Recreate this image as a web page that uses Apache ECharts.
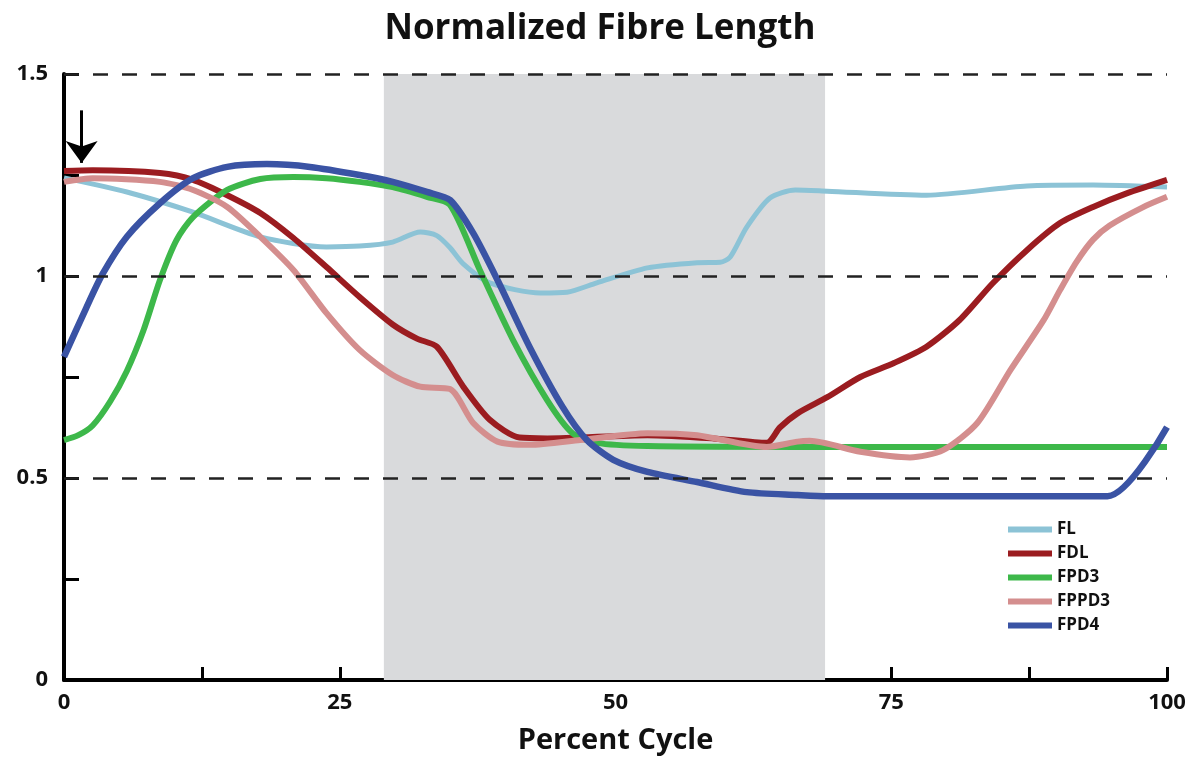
<!DOCTYPE html>
<html>
<head>
<meta charset="utf-8">
<title>Normalized Fibre Length</title>
<script src="https://cdn.jsdelivr.net/npm/echarts@6/dist/echarts.min.js"></script>
<style>
  html, body { margin: 0; padding: 0; background: #fff; }
  #chart { width: 1200px; height: 762px; }
</style>
</head>
<body>
<div id="chart"></div>
<script>
// values, [percent cycle, normalized length]
const fl = [[0,1.243],[5.7,1.208],[11.7,1.158],[17.8,1.097],[23.8,1.072],[26.8,1.074],[29.8,1.084],[32.3,1.109],[33.8,1.10],[35,1.07],[36.2,1.03],[38.6,0.983],[43.2,0.958],[45.6,0.96],[48.3,0.983],[52.9,1.02],[57.4,1.033],[59.5,1.034],[60.4,1.047],[61.9,1.121],[64,1.193],[66.3,1.213],[69.2,1.21],[78.2,1.20],[87.3,1.223],[93.3,1.225],[100,1.22]];
const fdl = [[0,1.26],[2.6,1.262],[8.7,1.255],[11.7,1.238],[14.8,1.20],[17.8,1.156],[20.8,1.094],[23.8,1.022],[26.8,0.948],[29.8,0.88],[32,0.845],[33.8,0.825],[36.2,0.726],[38.6,0.644],[41.3,0.60],[43.8,0.598],[52.9,0.606],[58.9,0.598],[63.7,0.587],[64.9,0.625],[66.5,0.66],[69.2,0.70],[72.2,0.75],[75.2,0.784],[78.2,0.825],[81.2,0.891],[84.2,0.982],[87.3,1.064],[90.3,1.131],[93.3,1.171],[96.4,1.205],[100,1.238]];
const fpd3 = [[0,0.594],[1.3,0.606],[2.6,0.63],[4.2,0.69],[5.7,0.765],[7.2,0.865],[8.7,0.99],[10.2,1.089],[11.7,1.146],[14.8,1.213],[17.8,1.24],[20.8,1.245],[23.8,1.242],[26.8,1.233],[29.8,1.22],[32.9,1.196],[35,1.176],[37.7,1.015],[40.7,0.842],[43.8,0.693],[46.1,0.611],[48.3,0.587],[52.9,0.579],[66.7,0.577],[100,0.577]];
const fppd3 = [[0,1.233],[2.6,1.242],[8.7,1.233],[11.7,1.213],[14.8,1.171],[17.8,1.097],[20.8,1.015],[23.8,0.908],[26.8,0.817],[29.8,0.755],[32.3,0.726],[35,0.72],[37.1,0.636],[39.3,0.59],[42.2,0.582],[46.8,0.594],[52.9,0.611],[57.4,0.606],[63.7,0.577],[66.5,0.59],[67.6,0.592],[72.2,0.565],[76.7,0.551],[79.7,0.569],[82.8,0.636],[85.8,0.767],[88.8,0.89],[90.3,0.965],[91.8,1.035],[93.3,1.09],[94.8,1.125],[97.8,1.17],[100,1.196]];
const fpd4 = [[0,0.80],[2,0.92],[3.5,1.005],[5.7,1.097],[8.7,1.18],[11.7,1.242],[14.8,1.27],[18.4,1.277],[22.3,1.27],[26.8,1.25],[29.8,1.233],[32.9,1.208],[35,1.188],[37.1,1.106],[39.3,0.99],[42.2,0.825],[45.2,0.676],[47.4,0.594],[49.8,0.545],[52.9,0.515],[57.4,0.49],[61.9,0.465],[66.5,0.458],[69.2,0.455],[94.6,0.455],[100,0.626]];

const seriesNames = ['FL', 'FDL', 'FPD3', 'FPPD3', 'FPD4'];
const seriesData = [fl, fdl, fpd3, fppd3, fpd4];
const seriesColors = ['#8cc3d6', '#9b1c20', '#3db84a', '#d48e8e', '#3a53a4'];
const seriesWidths = [5, 6, 6, 6, 6.5];

const bandRange = [29, 69];       // shaded phase
const gridLevels = [0.5, 1, 1.5]; // dashed reference lines
const arrowFrom = [1.6, 1.41];
const arrowTo = [1.6, 1.28];

const font = '"Open Sans", "DejaVu Sans", sans-serif';

function renderChart() {
  const chart = echarts.init(document.getElementById('chart'));

  const lines = seriesNames.map((name, i) => ({
    name: name,
    type: 'line',
    data: seriesData[i],
    smooth: 0.25,
    showSymbol: false,
    z: 3,
    color: seriesColors[i],
    lineStyle: { width: seriesWidths[i], color: seriesColors[i] }
  }));

  const option = {
    animation: false,
    title: {
      text: 'Normalized Fibre Length',
      left: 'center',
      top: 7,
      textStyle: { fontFamily: font, fontSize: 35, fontWeight: 'bold', color: '#111' }
    },
    grid: { left: 64, right: 33, top: 74, bottom: 82 },
    legend: {
      data: seriesNames,
      orient: 'vertical',
      left: 1003,
      top: 516,
      icon: 'rect',
      itemWidth: 44,
      itemHeight: 6,
      itemGap: 7,
      textStyle: { fontFamily: font, fontSize: 17, fontWeight: 'bold', color: '#111' }
    },
    xAxis: {
      type: 'value',
      min: 0,
      max: 100,
      interval: 12.5,
      name: 'Percent Cycle',
      nameLocation: 'middle',
      nameGap: 46,
      nameTextStyle: { fontFamily: font, fontSize: 29, fontWeight: 'bold', color: '#111' },
      axisLine: { lineStyle: { color: '#000', width: 4 } },
      axisTick: { inside: true, length: 13, lineStyle: { color: '#000', width: 3 } },
      axisLabel: {
        margin: 12,
        fontFamily: font,
        fontSize: 22,
        fontWeight: 'bold',
        color: '#111',
        formatter: v => (v % 25 === 0 ? String(v) : '')
      },
      splitLine: { show: false }
    },
    yAxis: {
      type: 'value',
      min: 0,
      max: 1.5,
      interval: 0.25,
      axisLine: { show: true, lineStyle: { color: '#000', width: 4 } },
      axisTick: { show: true, inside: true, length: 15, lineStyle: { color: '#000', width: 3 } },
      axisLabel: {
        margin: 16,
        fontFamily: font,
        fontSize: 22,
        fontWeight: 'bold',
        color: '#111',
        formatter: v => (Math.abs(v * 2 - Math.round(v * 2)) < 1e-6 ? String(v) : '')
      },
      splitLine: { show: false }
    },
    series: [
      {
        name: 'band',
        type: 'line',
        data: [],
        z: 1,
        silent: true,
        markArea: {
          silent: true,
          itemStyle: { color: '#d9dadc' },
          data: [[{ xAxis: bandRange[0] }, { xAxis: bandRange[1] }]]
        }
      },
      {
        name: 'grid',
        type: 'line',
        data: [],
        z: 2,
        silent: true,
        markLine: {
          silent: true,
          symbol: ['none', 'none'],
          label: { show: false },
          lineStyle: { color: '#222', width: 2.5, type: [15, 14] },
          data: gridLevels.map(v => ({ yAxis: v }))
        }
      },
      {
        name: 'arrow',
        type: 'line',
        data: [],
        z: 4,
        silent: true,
        markLine: {
          silent: true,
          symbol: ['none', 'arrow'],
          symbolSize: [24, 22],
          label: { show: false },
          lineStyle: { color: '#000', width: 3, type: 'solid' },
          data: [[{ coord: arrowFrom }, { coord: arrowTo }]]
        }
      }
    ].concat(lines)
  };

  chart.setOption(option);
}

document.addEventListener('DOMContentLoaded', renderChart);
</script>
</body>
</html>
